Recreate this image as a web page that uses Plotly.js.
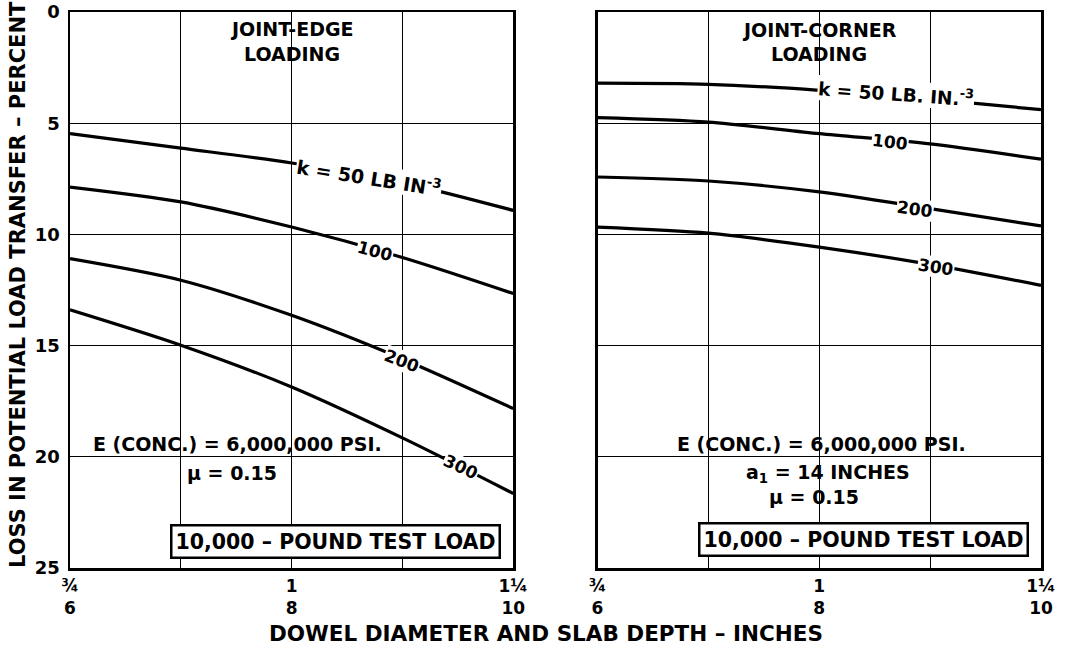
<!DOCTYPE html>
<html>
<head>
<meta charset="utf-8">
<script src="https://cdn.plot.ly/plotly-3.0.1.min.js"></script>
<style>html,body{margin:0;padding:0;background:#fff;}#chart{width:1066px;height:654px;}</style>
</head>
<body>
<div id="chart"></div>
<script>
// Slab depth (inches) — x positions; dowel diameters shown as a second tick row
const slabDepth = [6, 7, 8, 9, 10];
const xTickVals = [6, 8, 10];
const dowelTickLabels = ['¾', '1', '1¼'];
const depthTickLabels = ['6', '8', '10'];
const yTickVals = [0, 5, 10, 15, 20, 25];

// Joint-edge loading: loss in potential load transfer (%)
const edgeK50  = [5.47, 6.12, 6.79, 7.67, 8.92];
const edgeK100 = [7.87, 8.54, 9.67, 11.04, 12.66];
const edgeK200 = [11.09, 12.06, 13.64, 15.6, 17.83];
const edgeK300 = [13.39, 14.98, 16.86, 19.15, 21.65];

// Joint-corner loading: loss in potential load transfer (%)
const cornerK50  = [3.20, 3.25, 3.52, 3.92, 4.39];
const cornerK100 = [4.75, 4.95, 5.47, 5.93, 6.62];
const cornerK200 = [7.42, 7.60, 8.09, 8.84, 9.62];
const cornerK300 = [9.67, 9.94, 10.57, 11.35, 12.29];

const FONT = 'DejaVu Sans';
const lineStyle = {color: '#000', width: 3.2, shape: 'spline', smoothing: 0.8};

function curve(y, xa, ya, name) {
  return {x: slabDepth, y: y, xaxis: xa, yaxis: ya, name: name, mode: 'lines',
          line: lineStyle, hoverinfo: 'skip', showlegend: false};
}

const data = [
  curve(edgeK50, 'x', 'y', 'k=50'), curve(edgeK100, 'x', 'y', 'k=100'),
  curve(edgeK200, 'x', 'y', 'k=200'), curve(edgeK300, 'x', 'y', 'k=300'),
  curve(cornerK50, 'x2', 'y2', 'k=50'), curve(cornerK100, 'x2', 'y2', 'k=100'),
  curve(cornerK200, 'x2', 'y2', 'k=200'), curve(cornerK300, 'x2', 'y2', 'k=300')
];

const tickText = xTickVals.map((_, i) => dowelTickLabels[i] + '<br>' + depthTickLabels[i]);

function xAxis(domain) {
  return {domain: domain, range: [6, 10], tickmode: 'array', tickvals: xTickVals, ticktext: tickText,
          showgrid: true, gridcolor: '#000', gridwidth: 1, zeroline: false,
          minor: {tickmode: 'linear', tick0: 6, dtick: 1, showgrid: true, gridcolor: '#000', gridwidth: 1, ticks: ''},
          showline: true, linecolor: '#000', linewidth: 2.5, mirror: true,
          ticks: 'outside', ticklen: 1, tickcolor: 'rgba(0,0,0,0)',
          tickfont: {family: FONT, size: 17, color: '#000', weight: 'bold'}, fixedrange: true};
}
function yAxis(anchor, showLabels) {
  return {anchor: anchor, range: [25, 0], tickmode: 'array', tickvals: yTickVals,
          showticklabels: showLabels, showgrid: true, gridcolor: '#000', gridwidth: 1, zeroline: false,
          showline: true, linecolor: '#000', linewidth: 2.5, mirror: true,
          ticks: 'outside', ticklen: 4, tickcolor: 'rgba(0,0,0,0)',
          tickfont: {family: FONT, size: 18, color: '#000', weight: 'bold'}, fixedrange: true};
}

function txt(text, xref, yref, x, y, size, extra) {
  return Object.assign({text: text, xref: xref, yref: yref, x: x, y: y, showarrow: false,
    xanchor: 'center', yanchor: 'middle',
    font: {family: FONT, size: size, color: '#000', weight: 'bold'}}, extra || {});
}
function lbl(text, xref, yref, x, y, angle, size) {
  return txt(text, xref, yref, x, y, size || 17, {textangle: angle, bgcolor: '#fff', borderpad: 0});
}
const boxStyle = {bgcolor: '#fff', bordercolor: '#000', borderwidth: 2.5, borderpad: 3};

const annotations = [
  txt('JOINT-EDGE', 'x', 'y', 8, 0.75, 19),
  txt('LOADING', 'x', 'y', 8, 1.9, 19),
  txt('JOINT-CORNER', 'x2', 'y2', 8, 0.8, 19),
  txt('LOADING', 'x2', 'y2', 8, 1.9, 19),

  lbl('k = 50 LB IN<sup>-3</sup>', 'x', 'y', 8.70, 7.42, 9, 19),
  lbl('100', 'x', 'y', 8.75, 10.76, 15),
  lbl('200', 'x', 'y', 9.0, 15.68, 21),
  lbl('300', 'x', 'y', 9.53, 20.44, 25),

  lbl('k = 50 LB. IN.<sup>-3</sup>', 'x2', 'y2', 8.69, 3.66, 4, 18.5),
  lbl('100', 'x2', 'y2', 8.64, 5.85, 7),
  lbl('200', 'x2', 'y2', 8.86, 8.87, 8),
  lbl('300', 'x2', 'y2', 9.05, 11.45, 9),

  txt('E (CONC.) = 6,000,000 PSI.', 'x', 'y', 7.51, 20, 19, {yanchor: 'bottom', yshift: 0}),
  txt('μ = 0.15', 'x', 'y', 7.46, 20.74, 19),
  txt('10,000 – POUND TEST LOAD', 'x', 'y', 8.394, 23.8, 20.5, boxStyle),

  txt('E (CONC.) = 6,000,000 PSI.', 'x2', 'y2', 8.02, 20, 19, {yanchor: 'bottom', yshift: 0}),
  txt('a<sub>1</sub> = 14 INCHES', 'x2', 'y2', 8.08, 20.74, 19),
  txt('μ = 0.15', 'x2', 'y2', 7.95, 21.8, 19),
  txt('10,000 – POUND TEST LOAD', 'x2', 'y2', 8.40, 23.7, 20.5, boxStyle),

  txt('DOWEL DIAMETER AND SLAB DEPTH – INCHES', 'paper', 'paper', 0.49, -0.117, 21.5),
  txt('LOSS IN POTENTIAL LOAD TRANSFER – PERCENT', 'paper', 'paper', -0.053, 0.51, 21, {textangle: -90})
];

const layout = {
  width: 1066, height: 654,
  margin: {l: 70, r: 25, t: 12, b: 86, pad: 0},
  paper_bgcolor: '#fff', plot_bgcolor: '#fff',
  showlegend: false,
  xaxis: xAxis([0, 0.4565]),
  yaxis: yAxis('x', true),
  xaxis2: xAxis([0.5433, 1]),
  yaxis2: yAxis('x2', false),
  annotations: annotations
};

Plotly.newPlot('chart', data, layout, {staticPlot: true, displayModeBar: false});
</script>
</body>
</html>
